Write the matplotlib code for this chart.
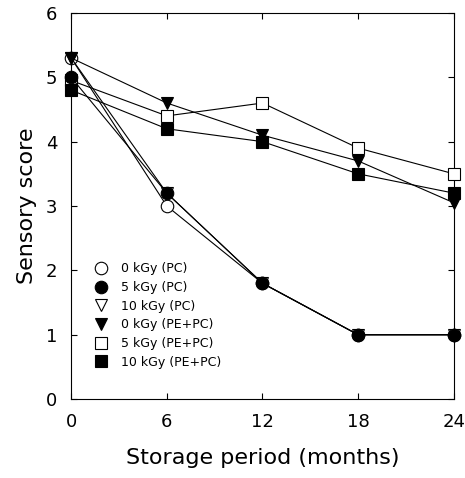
import matplotlib
matplotlib.use('Agg')
import matplotlib.pyplot as plt

# storage period (months)
months = [0, 6, 12, 18, 24]

# sensory scores
pc_0 = [5.3, 3.0, 1.8, 1.0, 1.0]
pc_5 = [5.0, 3.2, 1.8, 1.0, 1.0]
pc_10 = [5.3, 3.2, 1.8, 1.0, 1.0]
pepc_0 = [5.3, 4.6, 4.1, 3.7, 3.05]
pepc_5 = [4.95, 4.4, 4.6, 3.9, 3.5]
pepc_10 = [4.8, 4.2, 4.0, 3.5, 3.2]

labels = ['0 kGy (PC)', '5 kGy (PC)', '10 kGy (PC)',
          '0 kGy (PE+PC)', '5 kGy (PE+PC)', '10 kGy (PE+PC)']

fig = plt.figure(figsize=(4.65, 4.78), dpi=100)
ax = fig.add_axes([0.153, 0.165, 0.823, 0.808])

series = [pc_0, pc_5, pc_10, pepc_0, pepc_5, pepc_10]
markers = ['o', 'o', 'v', 'v', 's', 's']
fills = ['white', 'black', 'white', 'black', 'white', 'black']
sizes = [9, 9, 9, 9, 8, 8]
zs = [3, 5, 3, 4, 3, 4]  # filled marks sit on top of open ones
for ys, m, fc, ms, z, lab in zip(series, markers, fills, sizes, zs, labels):
    ax.plot(months, ys, color='black', lw=0.8, marker=m, markersize=ms,
            markerfacecolor=fc, markeredgecolor='black', markeredgewidth=0.8,
            label=lab, clip_on=False, zorder=z)

ax.set_xlim(0, 24)
ax.set_ylim(0, 6)
ax.set_xticks(months)
ax.set_yticks(range(0, 7))
ax.tick_params(direction='in', length=4, width=0.8, labelsize=13, pad=10,
               top=True, right=True)
for s in ax.spines.values():
    s.set_linewidth(0.8)

ax.set_xlabel('Storage period (months)', fontsize=16, labelpad=12)
ax.set_ylabel('Sensory score', fontsize=16, labelpad=6)

leg = ax.legend(loc='lower left', bbox_to_anchor=(0.03, 0.05), frameon=False,
                fontsize=9, handlelength=1.2, labelspacing=0.45,
                handletextpad=1.0)
# markers only in the legend, no line
for ln in leg.get_lines():
    ln.set_linestyle('')

fig.savefig('out.png', dpi=100)
